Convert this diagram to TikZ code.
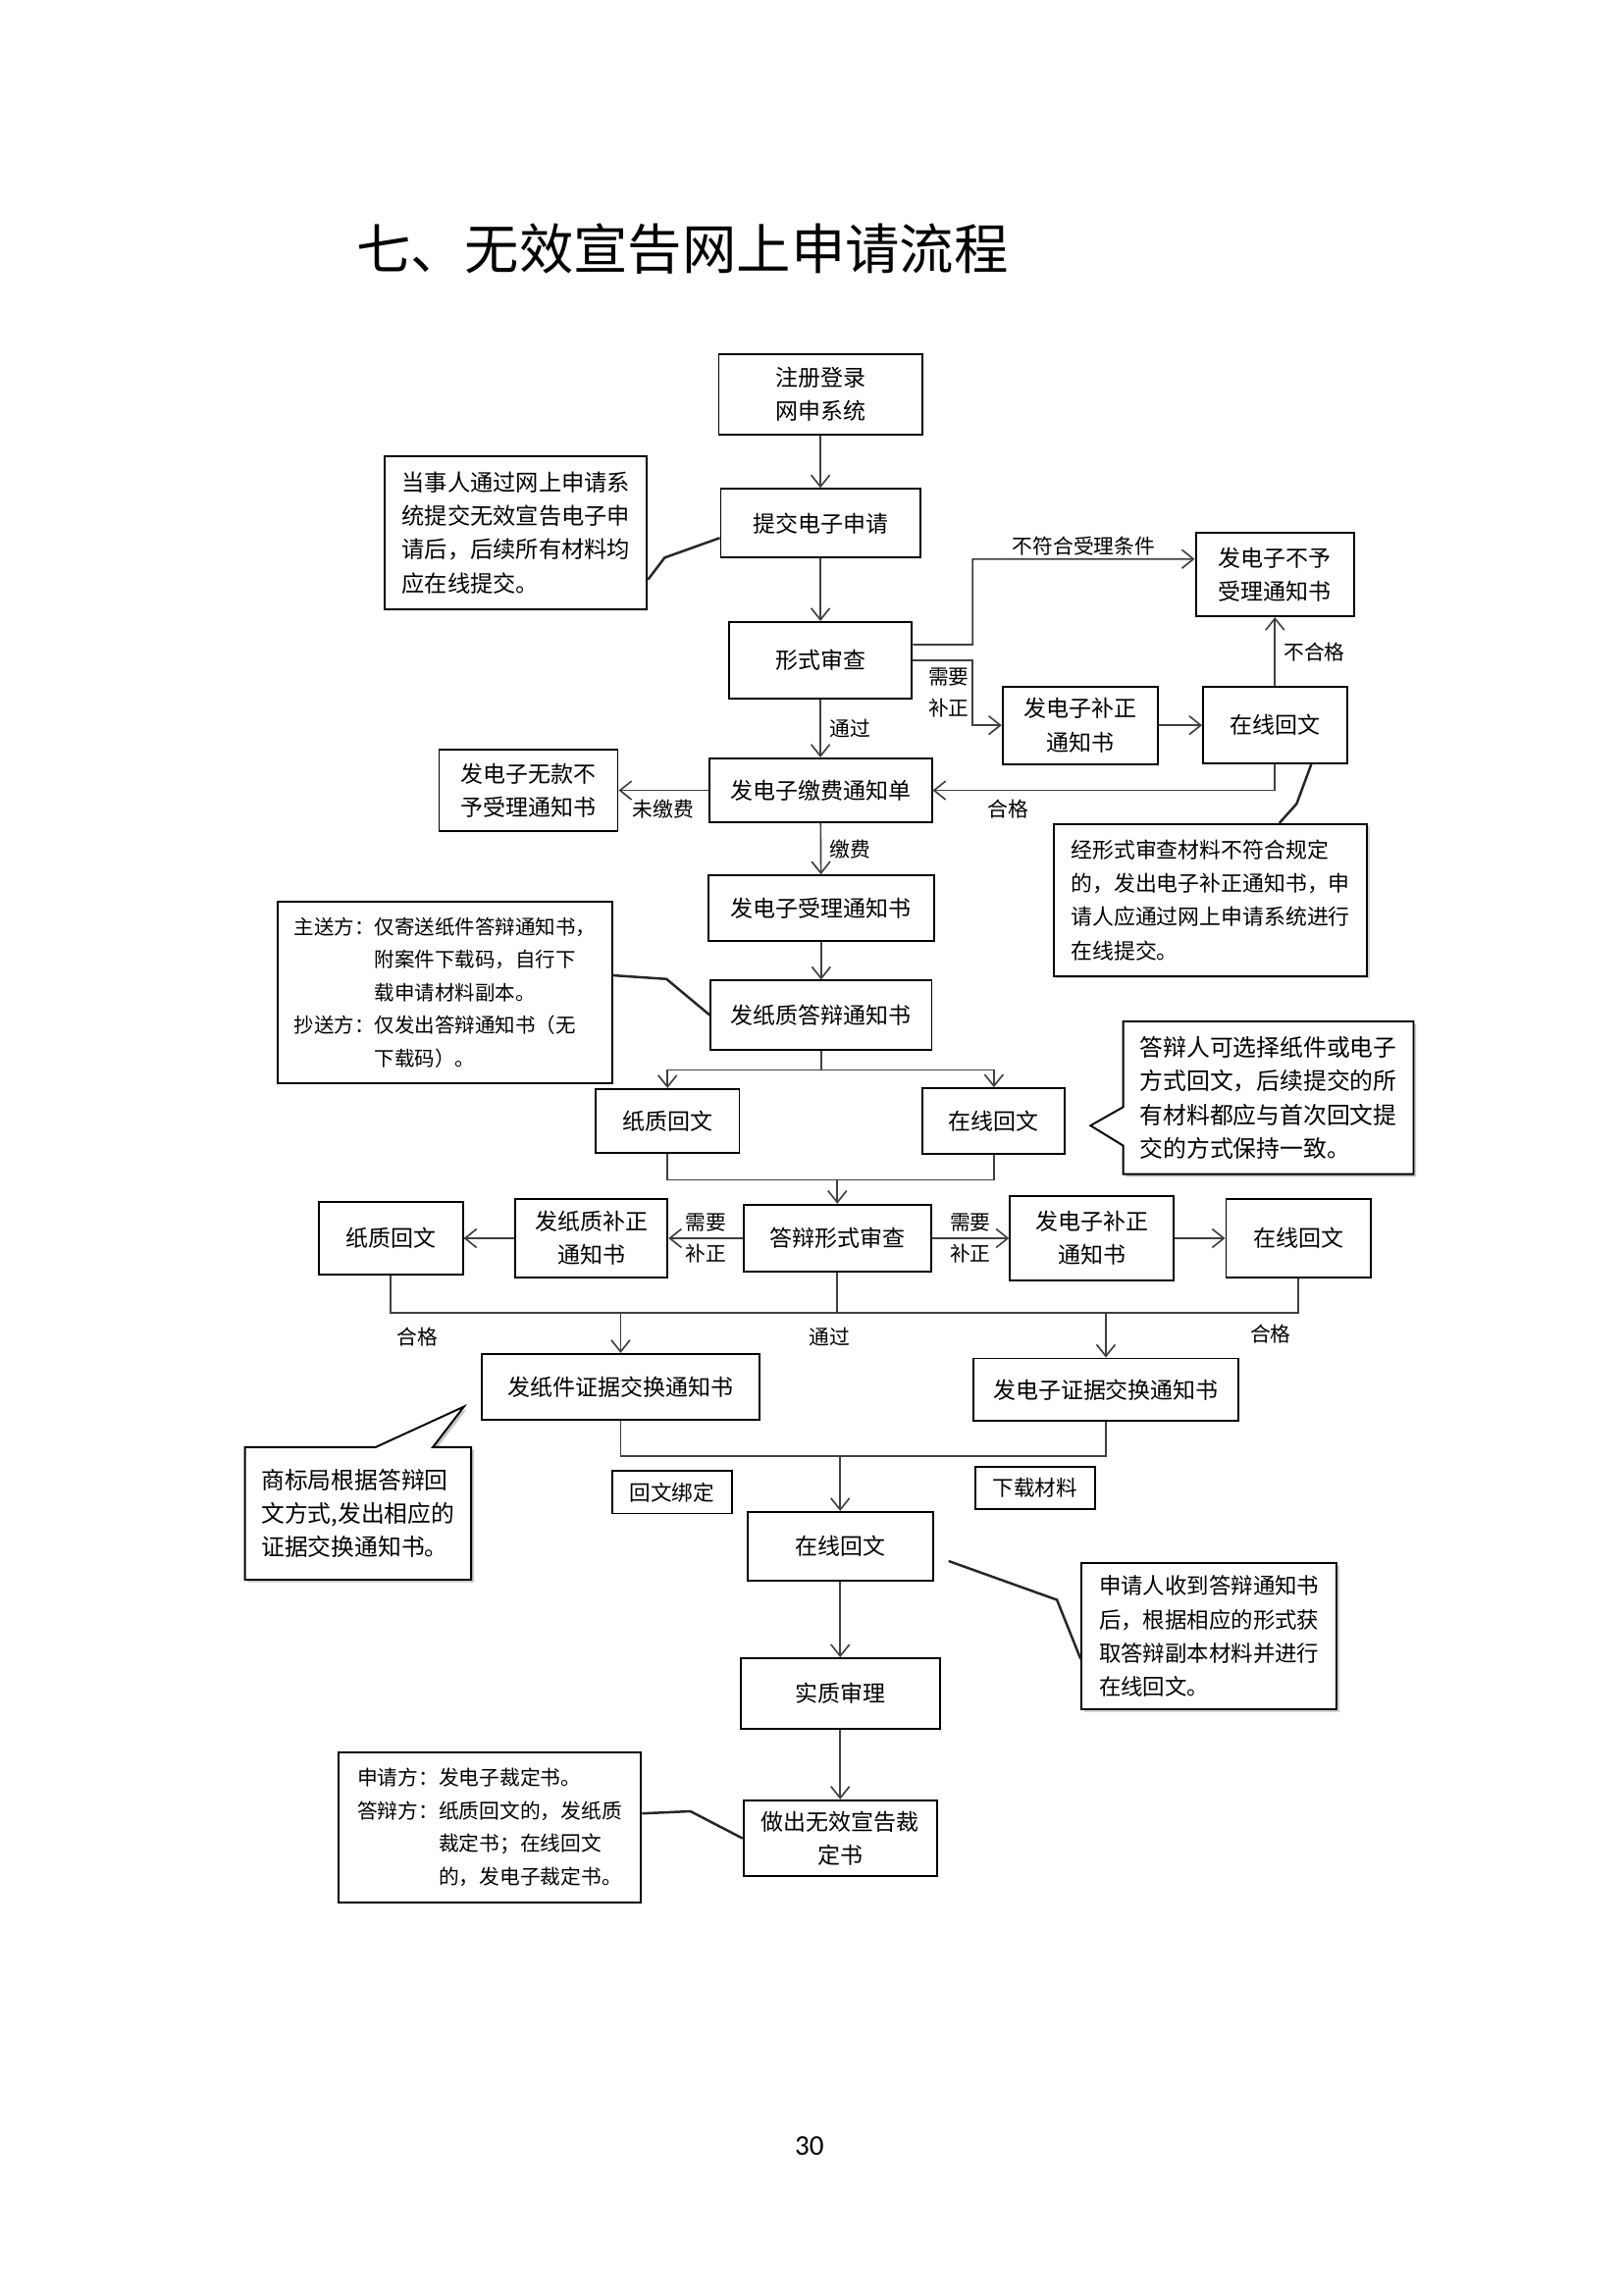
\documentclass[tikz,border=0pt]{standalone}
\usepackage{fontspec}
\setmainfont{Noto Sans CJK SC}
\newfontfamily\pagenofont{Carlito}
\usepackage{tikz}
\usetikzlibrary{arrows.meta, positioning, calc, backgrounds, shadows}

\newcommand{\procfont}{\fontsize{8.3}{12.4}\selectfont}
\newcommand{\lblfont}{\fontsize{7.5}{11.5}\selectfont}

\tikzstyle{procbox} = [rectangle, draw=black, line width=0.7pt, align=center, inner sep=0pt, font=\procfont]
\tikzstyle{notebox} = [rectangle, draw=black, line width=0.7pt, align=left, inner sep=0pt]
\tikzstyle{smallbox} = [rectangle, draw=black, line width=0.7pt, inner sep=0pt, font=\fontsize{7.8}{10}\selectfont, minimum width=15.5mm, minimum height=5.5mm]
\tikzstyle{flowarrow} = [draw=black!75, line width=0.6pt, ->, >={Straight Barb[length=1.5mm, width=2.4mm]}]
\tikzstyle{joinline} = [draw=black!75, line width=0.6pt]
\tikzstyle{leaderline} = [draw=black!85, line width=0.9pt]
\tikzstyle{flowlabel} = [font=\lblfont, inner sep=1pt, align=center]
\tikzstyle{calloutline} = [draw=black, line width=0.7pt, fill=white, drop shadow={shadow xshift=0.35mm, shadow yshift=-0.35mm, opacity=0.45}]

\begin{document}
\begin{tikzpicture}[x=0.18936mm, y=-0.18936mm]

    \useasboundingbox (0,0) rectangle (1109,1568);

    \node [anchor=west, inner sep=0pt, font=\fontsize{20}{24}\selectfont] (title) at (243,170) {七、无效宣告网上申请流程};

    % main column
    \node (reg) [procbox, minimum width=26.3mm, minimum height=10.4mm] at (560.5,269.5) {注册登录\\网申系统};
    \node (submit) [procbox, minimum width=25.8mm, minimum height=8.9mm] at (560.5,357.5) {提交电子申请};
    \node (formal) [procbox, minimum width=23.7mm, minimum height=9.85mm] at (560.5,451) {形式审查};
    \node (reject1) [procbox, minimum width=20.5mm, minimum height=10.8mm] at (871,392.5) {发电子不予\\受理通知书};
    \node (fix1) [procbox, minimum width=20.1mm, minimum height=10mm] at (738,495.5) {发电子补正\\通知书};
    \node (online1) [procbox, minimum width=18.6mm, minimum height=9.85mm] at (871,495.5) {在线回文};
    \node (pay) [procbox, minimum width=28.8mm, minimum height=8.3mm] at (560.5,540) {发电子缴费通知单};
    \node (nopay) [procbox, minimum width=23.1mm, minimum height=10.6mm] at (361,540) {发电子无款不\\予受理通知书};
    \node (accept) [procbox, minimum width=29.2mm, minimum height=8.5mm] at (561,620.5) {发电子受理通知书};
    \node (replyn) [procbox, minimum width=28.6mm, minimum height=8.9mm] at (561,693.5) {发纸质答辩通知书};
    \node (paper1) [procbox, minimum width=18.6mm, minimum height=8.3mm] at (456,766) {纸质回文};
    \node (online2) [procbox, minimum width=18.4mm, minimum height=8.5mm] at (679,766) {在线回文};

    \node (paper2) [procbox, minimum width=18.6mm, minimum height=9.5mm] at (267,846) {纸质回文};
    \node (fixpaper) [procbox, minimum width=19.7mm, minimum height=10.2mm] at (404,846) {发纸质补正\\通知书};
    \node (defcheck) [procbox, minimum width=24.2mm, minimum height=8.7mm] at (572,846) {答辩形式审查};
    \node (fixelec) [procbox, minimum width=21.2mm, minimum height=10.8mm] at (746,846) {发电子补正\\通知书};
    \node (online3) [procbox, minimum width=18.7mm, minimum height=10.2mm] at (887,846) {在线回文};

    \node (paperex) [procbox, minimum width=36mm, minimum height=8.5mm] at (424,947.5) {发纸件证据交换通知书};
    \node (elecex) [procbox, minimum width=34.3mm, minimum height=8.1mm] at (755.5,949.5) {发电子证据交换通知书};
    \node (bind) [smallbox] at (459,1019.5) {回文绑定};
    \node (download) [smallbox] at (707,1016.5) {下载材料};
    \node (onlinef) [procbox, minimum width=24mm, minimum height=8.9mm] at (574,1056.5) {在线回文};
    \node (subst) [procbox, minimum width=25.8mm, minimum height=9.1mm] at (574,1157) {实质审理};
    \node (decision) [procbox, minimum width=25mm, minimum height=9.85mm] at (574,1256) {做出无效宣告裁\\定书};

    % notes
    \node (note1) [notebox, minimum width=33.9mm, minimum height=19.7mm, font=\fontsize{8.4}{12.4}\selectfont] at (352.5,364)
        {当事人通过网上申请系\\统提交无效宣告电子申\\请后，后续所有材料均\\应在线提交。};
    \node (note2) [notebox, minimum width=40.5mm, minimum height=19.7mm, font=\fontsize{7.9}{12.4}\selectfont, drop shadow={shadow xshift=0.3mm, shadow yshift=-0.3mm, opacity=0.35}, fill=white] at (827,615)
        {经形式审查材料不符合规定\\的，发出电子补正通知书，申\\请人应通过网上申请系统进行\\在线提交。};
    \node (note3) [notebox, minimum width=43.2mm, minimum height=23.5mm, font=\fontsize{7.4}{12.1}\selectfont] at (304,678)
        {主送方：仅寄送纸件答辩通知书，\\\hspace*{4em}附案件下载码，自行下\\\hspace*{4em}载申请材料副本。\\抄送方：仅发出答辩通知书（无\\\hspace*{4em}下载码）。};
    \node (note4) [notebox, draw=none, minimum width=37.3mm, minimum height=19.5mm, font=\fontsize{8.6}{12.4}\selectfont] at (866.5,750)
        {答辩人可选择纸件或电子\\方式回文，后续提交的所\\有材料都应与首次回文提\\交的方式保持一致。};
    \node (note5) [notebox, draw=none, minimum width=29mm, minimum height=16.9mm, font=\fontsize{8.6}{12.4}\selectfont] at (244.6,1034)
        {商标局根据答辩回\\文方式,发出相应的\\证据交换通知书。};
    \node (note6) [notebox, minimum width=33mm, minimum height=18.9mm, font=\fontsize{8.1}{12.4}\selectfont, drop shadow={shadow xshift=0.3mm, shadow yshift=-0.3mm, opacity=0.35}, fill=white] at (826,1118)
        {申请人收到答辩通知书\\后，根据相应的形式获\\取答辩副本材料并进行\\在线回文。};
    \node (note7) [notebox, minimum width=39.2mm, minimum height=19.5mm, font=\fontsize{7.5}{12.1}\selectfont] at (334.5,1248.5)
        {申请方：发电子裁定书。\\答辩方：纸质回文的，发纸质\\\hspace*{4em}裁定书；在线回文\\\hspace*{4em}的，发电子裁定书。};

    \coordinate (tip4) at (745,769);
    \coordinate (tip5) at (317,961);

    % callout outlines behind the texts
    \begin{pgfonlayer}{background}
        \draw [calloutline] (note4.north west) -- (note4.north east) -- (note4.south east) -- (note4.south west)
            -- ([yshift=-6.2mm]note4.west) -- (tip4) -- ([yshift=-1.2mm]note4.west) -- cycle;
        \draw [calloutline] (note5.north west) -- ([xshift=16.9mm]note5.north west) -- (tip5)
            -- ([xshift=24.3mm]note5.north west) -- (note5.north east) -- (note5.south east) -- (note5.south west) -- cycle;
    \end{pgfonlayer}

    % first part
    \draw [flowarrow] (reg) -- (submit);
    \draw [flowarrow] (submit) -- (formal);
    \coordinate (rejbend) at (664.5,382);
    \coordinate (fixbend) at (664.5,451);
    \draw [flowarrow] ([yshift=2mm]formal.east) -| (rejbend) -- node [flowlabel, above] {不符合受理条件} ([yshift=2mm]reject1.west);
    \draw [flowarrow] (formal.east) -- (fixbend) |- node [flowlabel, pos=0.25, left] {需要\\补正} (fix1.west);
    \draw [flowarrow] (fix1) -- (online1);
    \draw [flowarrow] (online1) -- node [flowlabel, right=2pt] {不合格} (reject1);
    \draw [flowarrow] (online1.south) |- node [flowlabel, pos=0.89, below=2pt] {合格} (pay.east);
    \draw [flowarrow] (formal) -- node [flowlabel, right=2pt] {通过} (pay);
    \draw [flowarrow] (pay) -- node [flowlabel, below=2pt] {未缴费} (nopay);
    \draw [flowarrow] (pay) -- node [flowlabel, right=2pt] {缴费} (accept);
    \draw [flowarrow] (accept) -- (replyn);

    % answer choice
    \coordinate (fork1) at (561,731);
    \draw [joinline] (replyn) -- (fork1);
    \draw [flowarrow] (fork1) -| (paper1);
    \draw [flowarrow] (fork1) -| (online2);
    \coordinate (merge1) at (572,806);
    \draw [joinline] (paper1) |- (merge1);
    \draw [joinline] (online2) |- (merge1);
    \draw [flowarrow] (merge1) -- (defcheck);

    % defence check row
    \draw [flowarrow] (defcheck) -- node [flowlabel] {需要\\补正} (fixpaper);
    \draw [flowarrow] (fixpaper) -- (paper2);
    \draw [flowarrow] (defcheck) -- node [flowlabel] {需要\\补正} (fixelec);
    \draw [flowarrow] (fixelec) -- (online3);

    \coordinate (join2) at (572,897);
    \draw [joinline] (paper2.south) |- node [flowlabel, pos=0.53, below=4pt] {合格} (join2);
    \draw [joinline] (online3.south) |- node [flowlabel, pos=0.53, below=3pt] {合格} (join2);
    \draw [joinline] (defcheck.south) -- (join2) node [flowlabel, below=4pt, xshift=-1mm] {通过};
    \draw [flowarrow] (paperex.north |- join2) -- (paperex.north);
    \draw [flowarrow] (elecex.north |- join2) -- (elecex.north);

    \coordinate (join3) at (574,995);
    \draw [joinline] (paperex.south) |- (join3);
    \draw [joinline] (elecex.south) |- (join3);
    \draw [flowarrow] (join3) -- (onlinef);
    \draw [flowarrow] (onlinef) -- (subst);
    \draw [flowarrow] (subst) -- (decision);

    % note leaders
    \draw [leaderline] ([yshift=-6.06mm]note1.east) -- ++(11.4,-15) -- ([yshift=-1.9mm]submit.west);
    \draw [leaderline] ([xshift=4.7mm]online1.south) -- ++(-10,27) -- ([xshift=8.9mm]note2.north);
    \draw [leaderline] ([yshift=2.2mm]note3.east) -- ++(36.6,2.5) -- (replyn.west);
    \draw [leaderline] ([xshift=1.9mm, yshift=-1.9mm]onlinef.east) -- ++(74,26.5) -- ([yshift=-2.9mm]note6.west);
    \draw [leaderline] ([yshift=1.8mm]note7.east) -- ++(33,-1.5) -- (decision.west);

    \node (pageno) [font=\pagenofont\fontsize{10.5}{12}\selectfont] at (553,1466) {30};

\end{tikzpicture}
\end{document}
